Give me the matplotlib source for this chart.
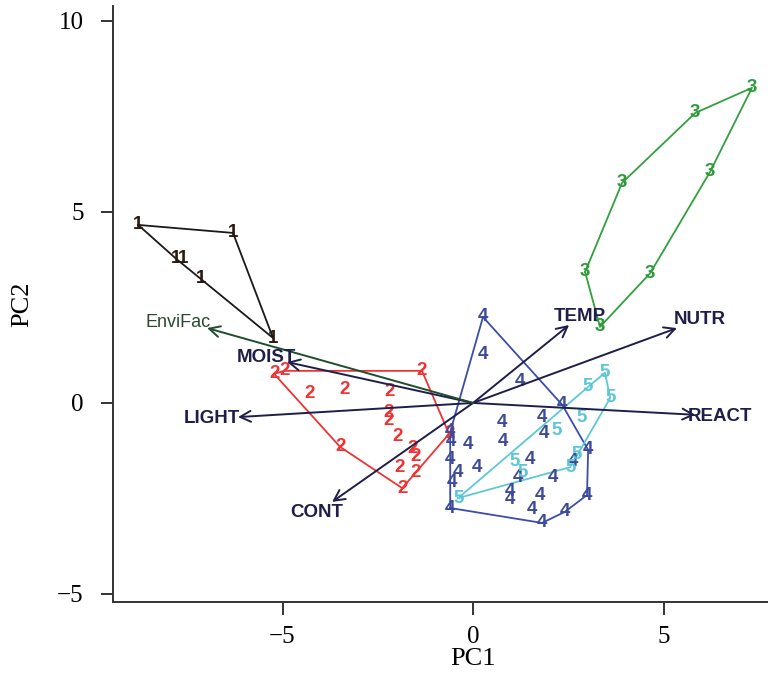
import numpy as np
import matplotlib
matplotlib.use("Agg")
import matplotlib.pyplot as plt

# site scores per group (PC1, PC2)
g1_x = [-8.79, -6.30, -7.80, -7.61, -7.14, -5.25]
g1_y = [4.66, 4.45, 3.78, 3.78, 3.26, 1.70]

g2_x = [-5.22, -4.96, -4.30, -3.36, -2.18, -2.23, -2.23, -1.99, -3.49, -1.60,
        -1.52, -1.92, -1.52, -1.86, -1.34, -0.63]
g2_y = [0.76, 0.84, 0.26, 0.34, 0.29, -0.26, -0.47, -0.89, -1.15, -1.18,
        -1.41, -1.68, -1.81, -2.23, 0.84, -0.81]

g3_x = [7.32, 5.83, 3.91, 6.22, 2.94, 4.65, 3.33]
g3_y = [8.25, 7.59, 5.76, 6.05, 3.43, 3.40, 1.99]

g4_x = [0.26, 0.26, 1.23, 2.34, 0.76, 1.81, 1.86, -0.60, -0.58, -0.13,
        0.79, 3.02, -0.60, 0.10, 1.50, -0.39, -0.55, 1.18, 2.10, 2.62,
        0.97, 0.97, 1.76, 2.99, -0.60, 1.55, 1.81, 2.41]
g4_y = [2.25, 1.28, 0.55, -0.05, -0.50, -0.39, -0.79, -0.76, -1.02, -1.10,
        -1.02, -1.23, -1.49, -1.68, -1.49, -1.83, -2.07, -1.96, -1.96, -1.54,
        -2.33, -2.54, -2.41, -2.41, -2.75, -2.80, -3.14, -2.85]

g5_x = [3.46, 3.02, 3.60, 2.86, 2.20, 2.73, 2.55, 1.10, 1.31, -0.39]
g5_y = [0.79, 0.42, 0.13, -0.37, -0.73, -1.36, -1.68, -1.54, -1.83, -2.49]

group_names = ["1", "2", "3", "4", "5"]
group_text_colors = ["#2a1a10", "#f03232", "#2e9a3c", "#3d4a9c", "#5cc6d6"]
group_hull_colors = ["#1a1a1a", "#ee3333", "#32a03c", "#3a4ea8", "#5ec8d8"]

# environmental vectors
env_names = ["TEMP", "NUTR", "REACT", "LIGHT", "CONT", "MOIST"]
env_x = [2.52, 5.35, 5.83, -6.17, -3.70, -4.88]
env_y = [2.04, 1.96, -0.31, -0.37, -2.59, 1.07]
fac_name = "EnviFac"
fac_x = -6.98
fac_y = 1.96


def hull(xs, ys):
    pts = sorted(set(zip(xs, ys)))

    def cross(o, a, b):
        return (a[0] - o[0]) * (b[1] - o[1]) - (a[1] - o[1]) * (b[0] - o[0])

    lower = []
    for p in pts:
        while len(lower) >= 2 and cross(lower[-2], lower[-1], p) <= 0:
            lower.pop()
        lower.append(p)
    upper = []
    for p in reversed(pts):
        while len(upper) >= 2 and cross(upper[-2], upper[-1], p) <= 0:
            upper.pop()
        upper.append(p)
    h = lower[:-1] + upper[:-1]
    h.append(h[0])
    return np.array(h)


def arrow(ax, x, y, color):
    ax.annotate("", xy=(x, y), xytext=(0, 0),
                arrowprops=dict(arrowstyle="->,head_length=0.55,head_width=0.28",
                                color=color, lw=1.4, shrinkA=0, shrinkB=0,
                                mutation_scale=14))


def main():
    fig = plt.figure(figsize=(7.68, 6.79), dpi=100)
    ax = fig.add_axes([113 / 768, 77 / 679, 655 / 768, 596 / 679])

    groups = [(g1_x, g1_y), (g2_x, g2_y), (g3_x, g3_y), (g4_x, g4_y), (g5_x, g5_y)]
    for i, (gx, gy) in enumerate(groups):
        for x, y in zip(gx, gy):
            ax.text(x, y, group_names[i], color=group_text_colors[i], fontsize=13.5,
                    fontweight="bold", family="Liberation Sans",
                    ha="center", va="center", zorder=3)
        h = hull(gx, gy)
        ax.plot(h[:, 0], h[:, 1], color=group_hull_colors[i], lw=1.3, zorder=2)

    vec_col = "#1e1e4a"
    for name, x, y in zip(env_names, env_x, env_y):
        arrow(ax, x, y, vec_col)
        ax.text(x * 1.11, y * 1.11, name, color=vec_col, fontsize=13.5,
                fontweight="bold", family="Liberation Sans",
                ha="center", va="center", zorder=4)
    arrow(ax, fac_x, fac_y, "#1f4d2e")
    ax.text(fac_x * 1.11, fac_y * 1.08, fac_name, color="#2a4a30", fontsize=13,
            family="Liberation Sans", ha="center", va="center", zorder=4)

    ax.set_xlim(-9.45, 7.74)
    ax.set_ylim(-5.21, 10.39)
    ax.set_xticks([-5, 0, 5])
    ax.set_yticks([-5, 0, 5, 10])
    ax.set_xticklabels(["\u22125", "0", "5"])
    ax.set_yticklabels(["\u22125", "0", "5", "10"])
    for lab in ax.get_xticklabels() + ax.get_yticklabels():
        lab.set_family("Liberation Serif")
        lab.set_fontsize(18)
    ax.tick_params(direction="out", length=9, width=1.4, color="#333333", pad=12)
    ax.tick_params(axis="x", pad=8)

    ax.spines["top"].set_visible(False)
    ax.spines["right"].set_visible(False)
    ax.spines["left"].set_linewidth(1.4)
    ax.spines["bottom"].set_linewidth(1.4)
    ax.spines["left"].set_color("#333333")
    ax.spines["bottom"].set_color("#333333")

    ax.set_xlabel("PC1", family="Liberation Serif", fontsize=19)
    ax.set_ylabel("PC2", family="Liberation Serif", fontsize=19)
    ax.xaxis.set_label_coords(0.55, -0.078)
    ax.yaxis.set_label_coords(-0.122, 0.5)

    fig.savefig("out.png", dpi=100)


if __name__ == "__main__":
    main()
